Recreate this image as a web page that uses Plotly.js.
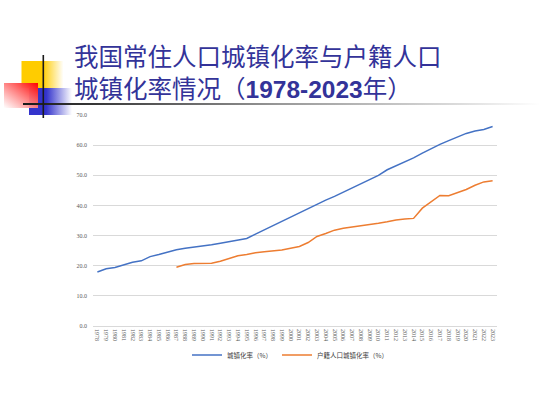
<!DOCTYPE html>
<html>
<head>
<meta charset="utf-8">
<script src="https://cdn.plot.ly/plotly-3.0.1.min.js"></script>
<style>
html,body{margin:0;padding:0;background:#fff;}
#chart{width:550px;height:411px;}
</style>
</head>
<body>
<div id="chart"></div>
<script>
var years = ['1978','1979','1980','1981','1982','1983','1984','1985','1986','1987','1988','1989','1990','1991','1992','1993','1994','1995','1996','1997','1998','1999','2000','2001','2002','2003','2004','2005','2006','2007','2008','2009','2010','2011','2012','2013','2014','2015','2016','2017','2018','2019','2020','2021','2022','2023'];
var residentRate = [17.92,18.96,19.39,20.16,21.13,21.62,23.01,23.71,24.52,25.32,25.81,26.21,26.41,26.94,27.46,27.99,28.51,29.04,30.48,31.91,33.35,34.78,36.22,37.66,39.09,40.53,41.76,42.99,44.34,45.89,46.99,48.34,49.95,51.83,53.10,54.49,55.75,57.33,58.84,60.24,61.50,62.71,63.89,64.72,65.22,66.16];
var hukouRate = [null,null,null,null,null,null,null,null,null,19.5,20.4,20.7,20.7,20.8,21.5,22.3,23.3,23.7,24.3,24.6,24.9,25.2,25.8,26.4,27.7,29.7,30.7,31.8,32.4,32.8,33.1,33.6,34.1,34.6,35.2,35.5,35.7,39.1,41.3,43.3,43.2,44.2,45.3,46.7,47.8,48.2];
var seriesNames = ['城镇化率（%）','户籍人口城镇化率（%）'];
var titleText = '我国常住人口城镇化率与户籍人口<br>城镇化率情况（<b style="font-family:Liberation Sans,Arial">1978-2023</b>年）';

var W = 550, H = 411;
var L = 93, R = 497, T = 115, B = 326;
function px(x){ return (x - L) / (R - L); }
function py(y){ return (B - y) / (B - T); }

var deco = '<svg xmlns="http://www.w3.org/2000/svg" width="550" height="411" viewBox="0 0 550 411">' +
 '<defs>' +
 '<linearGradient id="gy" x1="0" y1="0" x2="1" y2="0"><stop offset="0" stop-color="#FFCC00"/><stop offset="0.5" stop-color="#FFCC00"/><stop offset="1" stop-color="#FFCC00" stop-opacity="0"/></linearGradient>' +
 '<linearGradient id="gb" x1="0" y1="0" x2="1" y2="0"><stop offset="0" stop-color="#3333CC"/><stop offset="0.4" stop-color="#3333CC"/><stop offset="1" stop-color="#3333CC" stop-opacity="0"/></linearGradient>' +
 '<linearGradient id="gr" x1="1" y1="0" x2="0" y2="1"><stop offset="0" stop-color="#FF0000"/><stop offset="1" stop-color="#FFFFFF" stop-opacity="0.9"/></linearGradient>' +
 '<linearGradient id="gl" x1="0" y1="0" x2="1" y2="0"><stop offset="0" stop-color="#1a1a1a"/><stop offset="0.12" stop-color="#333333"/><stop offset="0.5" stop-color="#999999"/><stop offset="0.85" stop-color="#dddddd"/><stop offset="1" stop-color="#ffffff"/></linearGradient>' +
 '</defs>' +
 '<rect x="21.5" y="61" width="42" height="27" fill="url(#gy)"/>' +
 '<rect x="29" y="88" width="43" height="27" fill="url(#gb)"/>' +
 '<rect x="4" y="83" width="34" height="25" fill="url(#gr)"/>' +
 '<rect x="23" y="103" width="517" height="2" fill="url(#gl)"/>' +
 '<rect x="42.5" y="55" width="1.6" height="63" fill="#1a1a1a"/>' +
 '</svg>';
var decoURI = 'data:image/svg+xml;charset=utf-8,' + encodeURIComponent(deco);

var tickFont = {family:'Liberation Serif, Times New Roman, serif', size:6, color:'#595959'};

var data = [
  {x: years, y: residentRate, type:'scatter', mode:'lines', name: seriesNames[0],
   line:{color:'#4472C4', width:1.5}, hoverinfo:'x+y'},
  {x: years, y: hukouRate, type:'scatter', mode:'lines', name: seriesNames[1],
   line:{color:'#ED7D31', width:1.5}, connectgaps:false, hoverinfo:'x+y'}
];

var titleFont = {family:'Noto Sans CJK SC, sans-serif', size:24.5, color:'#333399'};

var layout = {
  width: W, height: H,
  margin: {l: L, r: W - R, t: T, b: H - B, pad: 0},
  paper_bgcolor:'#ffffff', plot_bgcolor:'#ffffff',
  showlegend: true,
  legend: {orientation:'h', x: px(290), xanchor:'center', y: py(355), yanchor:'middle',
    font:{family:'Noto Sans CJK SC, sans-serif', size:6.5, color:'#404040'},
    bgcolor:'rgba(0,0,0,0)', itemwidth:30, tracegroupgap:0},
  xaxis: {type:'category', range:[-0.5, years.length - 0.5], tickangle:90,
    tickfont: tickFont, showgrid:false, zeroline:false, showline:false, ticks:'',
    ticklabelstandoff: 2, fixedrange:true},
  yaxis: {range:[0,70], dtick:10, tickformat:'.1f', tickfont: tickFont,
    showgrid:true, gridcolor:'#D9D9D9', gridwidth:1, zeroline:true, zerolinecolor:'#D9D9D9', zerolinewidth:1,
    showline:false, ticks:'', ticklabelstandoff: 5, fixedrange:true},
  images: [{source: decoURI, xref:'paper', yref:'paper', x: px(0), y: py(0),
    sizex: W/(R-L), sizey: H/(B-T), xanchor:'left', yanchor:'top', sizing:'stretch', layer:'below'}],
  annotations: [
    {text: titleText, xref:'paper', yref:'paper', x: px(72), y: py(71), xanchor:'left', yanchor:'middle',
     align:'left', showarrow:false, font: titleFont}
  ]
};

Plotly.newPlot('chart', data, layout, {displayModeBar:false, staticPlot:true});
</script>
</body>
</html>
